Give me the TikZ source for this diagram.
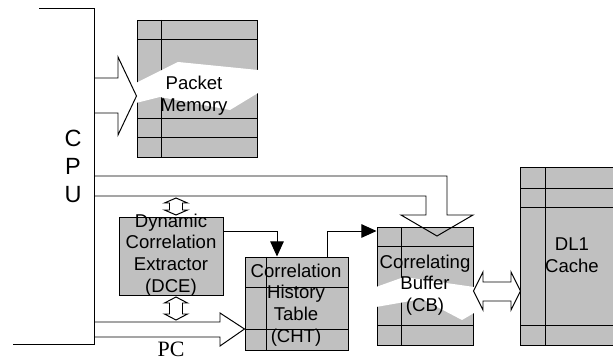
\documentclass[tikz,border=0pt]{standalone}
\usepackage{fontspec}
\setmainfont{Liberation Sans}
\newfontfamily\pcfont{Liberation Serif}
\usetikzlibrary{arrows.meta}
\definecolor{memgray}{RGB}{192,192,192}

\begin{document}
\begin{tikzpicture}[x=0.25mm,y=-0.25mm,line width=0.7pt,
  mem/.style={draw, fill=memgray, inner sep=0pt},
  txt/.style={align=center, inner sep=0pt, font=\fontsize{13.2}{15.4}\selectfont},
  hollow/.style={draw, line join=miter},
  feed/.style={-{Triangle[length=3.8mm,width=3.4mm]}}]
\useasboundingbox (0,0) rectangle (613,360);

% memories
\node[mem, minimum width=30mm, minimum height=34.25mm] (pm) at (197,88.5) {};
\node[mem, minimum width=26mm, minimum height=19.5mm] (dce) at (171,256) {};
\node[mem, minimum width=25.75mm, minimum height=23.25mm] (cht) at (296.5,303.5) {};
\node[mem, minimum width=24mm, minimum height=29.5mm] (cb) at (425,286) {};
\node[mem, draw=none, minimum width=23mm, minimum height=44.25mm] (dl1) at (567,256.5) {};
\draw (dl1.north east) -- (dl1.north west) -- (dl1.south west) -- (dl1.south east);

% table lines
\draw (161,20) -- (161,157);
\draw (137,39) -- (257,39);
\draw (137,118) -- (257,118);
\draw (137,137) -- (257,137);
\draw (266,257) -- (266,350);
\draw (245,287) -- (348,287);
\draw (245,329) -- (348,329);
\draw (401,227) -- (401,345);
\draw (377,246) -- (473,246);
\draw (377,325) -- (473,325);
\draw (545,168) -- (545,345);
\draw (521,188) -- (613,188);
\draw (521,207) -- (613,207);
\draw (521,325) -- (613,325);

% torn bands
\fill[white] (136,83) -- (178,62) -- (258,70) -- (258,93) -- (230,110) -- (160,97) -- (136,103) -- cycle;
\fill[white] (376,287) -- (404,277) -- (474,287) -- (474,313) -- (462,320) -- (422,299) -- (376,307) -- cycle;

% labels
\node[txt] (pmtext) at (194,96) {Packet\\Memory};
\node[txt] (dcetext) at (171,255) {Dynamic\\Correlation\\Extractor\\(DCE)};
\node[txt] (chttext) at (296,305) {Correlation\\History\\Table\\(CHT)};
\node[txt] (cbtext) at (425,285) {Correlating\\Buffer\\(CB)};
\node[txt] (dl1text) at (572,255) {DL1\\Cache};
\node[align=center, inner sep=0pt, font=\fontsize{16.7}{19.9}\selectfont] (cpu) at (73,166) {C\\P\\U};
\node[inner sep=0pt, font=\pcfont\fontsize{15.6}{18}\selectfont] (pc) at (171,349) {PC};

% cpu side
\coordinate (bustop) at (94,8);
\coordinate (busbot) at (94,344);
\draw (39,8) -- (bustop) -- (busbot) -- (13,344);

% wide arrows
\draw[hollow] (bustop |- 0,78) -- (118,78) -- (118,57) -- (pm.west |- 0,96) -- (118,135) -- (118,113) -- (bustop |- 0,113);
\draw[hollow] (bustop |- 0,176) -- (447,176) -- (447,215) -- (473,215) -- (437,236) -- (401,215) -- (426,215) -- (426,196) -- (bustop |- 0,196);
\draw[hollow] (bustop |- 0,322) -- (220,322) -- (220,313) -- (cht.west |- 0,329) -- (220,346) -- (220,337) -- (bustop |- 0,337);
\draw[hollow] (176,198) -- (187.5,203) -- (182.5,203) -- (182.5,210) -- (187.5,210) -- (176,215) -- (164.5,210) -- (169.5,210) -- (169.5,203) -- (164.5,203) -- cycle;
\draw[hollow] (176,297) -- (187.5,303) -- (182.5,303) -- (182.5,314) -- (187.5,314) -- (176,320) -- (164.5,314) -- (169.5,314) -- (169.5,303) -- (164.5,303) -- cycle;
\draw[hollow] (cb.east |- 0,291) -- (483,272) -- (483,282) -- (511,282) -- (511,272) -- (dl1.west |- 0,291) -- (511,310) -- (511,301) -- (483,301) -- (483,310) -- cycle;

% feeds
\draw[feed] (dce.east |- 0,231) -| (cht.north -| 277,0);
\draw[feed] (cht.north -| 327,0) |- (cb.west |- 0,231);
\end{tikzpicture}
\end{document}
